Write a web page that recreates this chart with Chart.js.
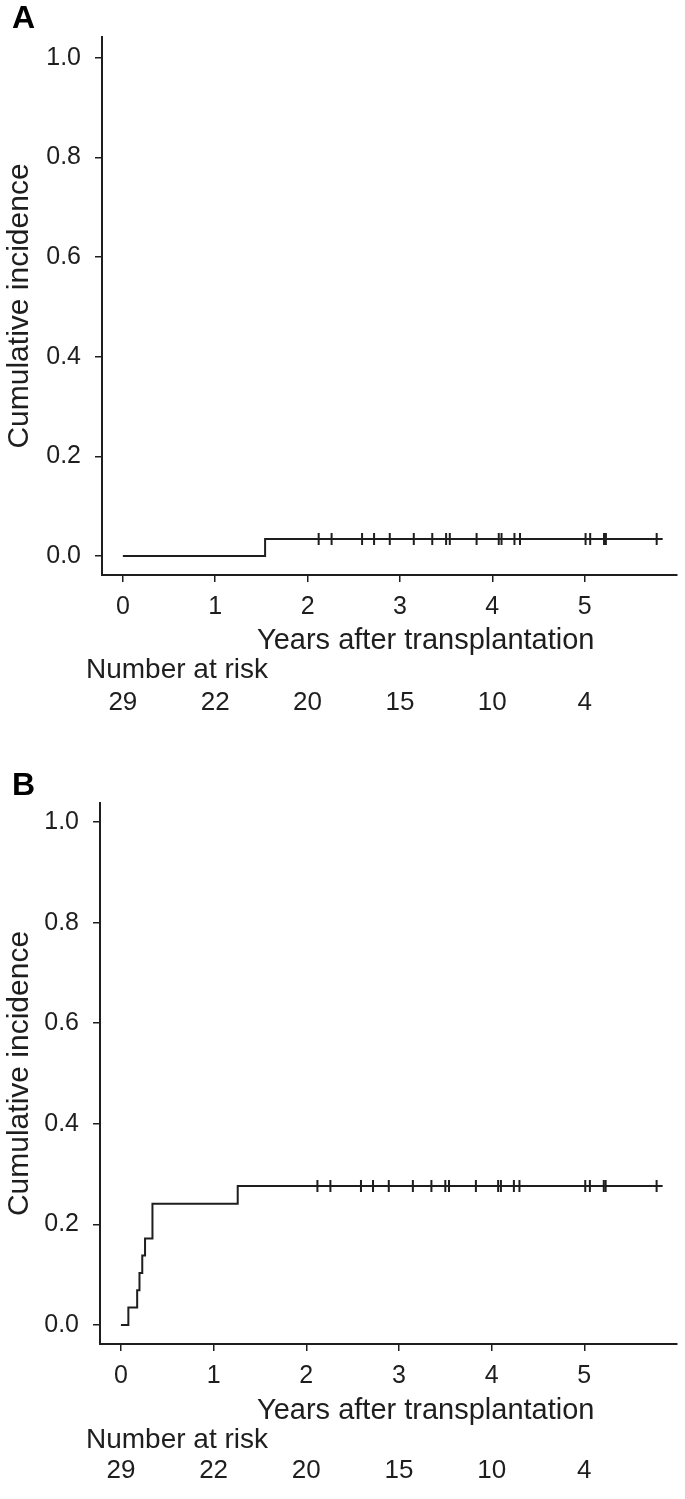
<!DOCTYPE html>
<html><head><meta charset="utf-8">
<script src="https://cdn.jsdelivr.net/npm/chart.js@4.4.1/dist/chart.umd.min.js"></script>
<style>
html,body{margin:0;padding:0;background:#fff;width:685px;height:1499px;overflow:hidden}
.panel{position:absolute;left:0;width:685px;height:730px}
#pa{top:0} #pb{top:769px}
</style></head><body>
<div class="panel" id="pa"><canvas id="ca" width="685" height="730"></canvas></div>
<div class="panel" id="pb"><canvas id="cb" width="685" height="730"></canvas></div>
<script>
// ---- data ----
const yTicks = [0, 0.2, 0.4, 0.6, 0.8, 1.0];
const yTickLabels = ['0.0', '0.2', '0.4', '0.6', '0.8', '1.0'];
const xTicks = [0, 1, 2, 3, 4, 5];
const xTickLabels = ['0', '1', '2', '3', '4', '5'];
const riskTimes = [0, 1, 2, 3, 4, 5];
const riskA = [29, 22, 20, 15, 10, 4];
const riskB = [29, 22, 20, 15, 10, 4];
const censorTimes = [2.12, 2.26, 2.59, 2.72, 2.89, 3.15, 3.35, 3.50, 3.54, 3.83, 4.07, 4.10, 4.24, 4.30, 5.01, 5.06, 5.21, 5.23, 5.78];
const stepTimesA = [0, 1.54, 5.78];
const stepValuesA = [0, 0.0345, 0.0345];
const stepTimesB = [0, 0.08, 0.175, 0.20, 0.23, 0.26, 0.34, 1.26, 5.78];
const stepValuesB = [0, 0.0345, 0.069, 0.103, 0.138, 0.172, 0.241, 0.276, 0.276];
const censorValueA = 0.0345;
const censorValueB = 0.276;
const panelLetters = ['A', 'B'];
const xTitle = 'Years after transplantation';
const yTitle = 'Cumulative incidence';
const riskTitle = 'Number at risk';

const INK = '#1e1e1e';
const FONT = '"Liberation Sans", Arial, sans-serif';
const textPlugin = {
  id: 'kmText',
  afterDraw(chart) {
    const o = chart.options.plugins.kmText;
    const ctx = chart.ctx;
    const xs = chart.scales.x;
    ctx.save();
    ctx.fillStyle = '#000';
    ctx.textBaseline = 'alphabetic';
    ctx.textAlign = 'left';
    ctx.font = 'bold 32px ' + FONT;
    ctx.fillText(o.letter, 12, o.letterBase);
    ctx.fillStyle = INK;
    ctx.font = '29px ' + FONT;
    ctx.textBaseline = 'middle';
    ctx.fillText(xTitle, 257, o.xTitleY);
    ctx.font = '28px ' + FONT;
    ctx.fillText(riskTitle, 86, o.riskTitleY);
    ctx.textAlign = 'center';
    ctx.font = '26px ' + FONT;
    o.risk.forEach((n, i) => {
      ctx.fillText(String(n), xs.getPixelForValue(riskTimes[i]), o.riskY);
    });
    ctx.restore();
  }
};

function makeChart(id, cfg) {
  const steps = cfg.times.map((t, i) => ({x: t, y: cfg.values[i]}));
  const cens = censorTimes.map(t => ({x: t, y: cfg.censorValue}));
  return new Chart(document.getElementById(id), {
    type: 'scatter',
    data: {datasets: [
      {data: steps, showLine: true, stepped: 'before', borderColor: INK, borderWidth: 2, pointRadius: 0, fill: false},
      {data: cens, showLine: false, pointStyle: 'cross', pointRadius: 6, borderColor: INK, pointBorderColor: INK, pointBorderWidth: 2}
    ]},
    options: {
      responsive: false, animation: false, events: [],
      layout: {padding: {left: 0, right: 685 - cfg.right, top: cfg.top, bottom: 0}},
      plugins: {
        legend: {display: false}, tooltip: {enabled: false},
        kmText: {letter: cfg.letter, letterBase: cfg.letterBase, risk: cfg.risk,
                 xTitleY: cfg.xTitleY, riskTitleY: cfg.riskTitleY, riskY: cfg.riskY}
      },
      scales: {
        x: {
          type: 'linear', min: cfg.xmin, max: cfg.xmax,
          afterBuildTicks: s => { s.ticks = xTicks.map(v => ({value: v})); },
          afterFit: s => { s.height = 730 - cfg.bottom; },
          grid: {drawOnChartArea: false, drawTicks: true, tickLength: 7, color: INK, lineWidth: 1.5},
          border: {display: true, color: INK, width: 2},
          ticks: {color: INK, font: {family: FONT, size: 25}, padding: 10,
                  maxRotation: 0, autoSkip: false,
                  callback: (v) => xTickLabels[xTicks.indexOf(v)]}
        },
        y: {
          type: 'linear', min: cfg.ymin, max: cfg.ymax,
          afterBuildTicks: s => { s.ticks = yTicks.map(v => ({value: v})); },
          afterFit: s => { s.width = cfg.left; },
          grid: {drawOnChartArea: false, drawTicks: true, tickLength: 7, color: INK, lineWidth: 1.5},
          border: {display: true, color: INK, width: 2},
          ticks: {color: INK, font: {family: FONT, size: 25}, padding: 14,
                  callback: (v) => yTickLabels[yTicks.indexOf(v)]},
          title: {display: true, text: yTitle, color: INK,
                  font: {family: FONT, size: 30}, padding: {top: 2, bottom: 0}}
        }
      }
    },
    plugins: [textPlugin]
  });
}

makeChart('ca', {letter: panelLetters[0], letterBase: 28, times: stepTimesA, values: stepValuesA, censorValue: censorValueA,
  risk: riskA, left: 102, right: 681, top: 37, bottom: 575, xmin: -0.226, xmax: 6.0, ymin: -0.038, ymax: 1.042,
  xTitleY: 641, riskTitleY: 670, riskY: 703});
makeChart('cb', {letter: panelLetters[1], letterBase: 26, times: stepTimesB, values: stepValuesB, censorValue: censorValueB,
  risk: riskB, left: 100, right: 681, top: 34, bottom: 575, xmin: -0.226, xmax: 6.0, ymin: -0.038, ymax: 1.038,
  xTitleY: 642, riskTitleY: 671, riskY: 702});
</script>
</body></html>
